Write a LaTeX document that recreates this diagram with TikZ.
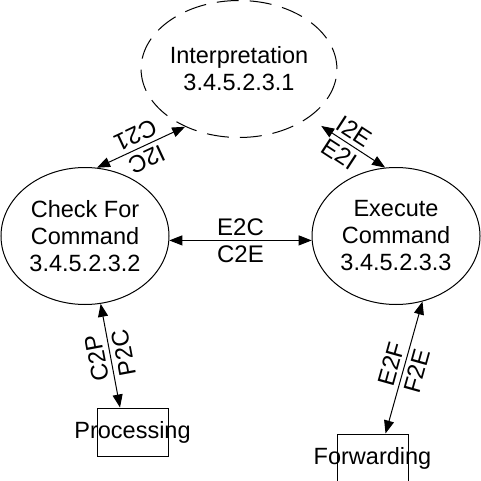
\documentclass[tikz,border=0pt]{standalone}
\usepackage{fontspec}
\setmainfont{Liberation Sans}
\usetikzlibrary{shapes.geometric,arrows.meta}
\begin{document}
\begin{tikzpicture}[x=1pt,y=-1pt,
  proc/.style={ellipse,draw,line width=1pt,minimum width=168pt,minimum height=137pt,inner sep=0pt,align=center,font=\fontsize{23.5}{27}\selectfont},
  ext/.style={rectangle,draw,line width=1pt,minimum width=71pt,minimum height=48pt,inner sep=0pt,label={[font=\fontsize{23.5}{27}\selectfont]center:#1}},
  flow/.style={{Triangle[length=13pt,width=10pt]}-{Triangle[length=13pt,width=10pt]},line width=1pt},
  lbl/.style={font=\fontsize{24}{27}\selectfont,inner sep=4.5pt}]
\useasboundingbox (0,0) rectangle (481,481);
\node[proc,dash pattern=on 22pt off 11pt] (interp) at (239,69) {Interpretation\\3.4.5.2.3.1};
\node[proc] (check) at (85,236) {Check For\\Command\\3.4.5.2.3.2};
\node[proc] (exec) at (396,236) {Execute\\Command\\3.4.5.2.3.3};
\node[ext=Processing] (procbox) at (132.5,432) {};
\node[ext=Forwarding] (fwdbox) at (372.5,458) {};
\draw[flow] (interp.227) -- (check.80) node[lbl,midway,sloped,allow upside down,below]{C21} node[lbl,midway,sloped,allow upside down,above]{I2C};
\draw[flow,shorten <=15pt] (interp.325) -- (exec.99) node[lbl,midway,sloped,above]{I2E} node[lbl,midway,sloped,below]{E2I};
\draw[flow] (check.-3) -- (exec.183) node[lbl,midway,above]{E2C} node[lbl,midway,below]{C2E};
\draw[flow] (procbox.117.5) -- (check.283.5) node[lbl,midway,sloped,allow upside down,above]{C2P} node[lbl,midway,sloped,allow upside down,below]{P2C};
\draw[flow] (fwdbox.62.5) -- (exec.292.8) node[lbl,midway,sloped,above]{E2F} node[lbl,midway,sloped,below]{F2E};
\end{tikzpicture}
\end{document}
